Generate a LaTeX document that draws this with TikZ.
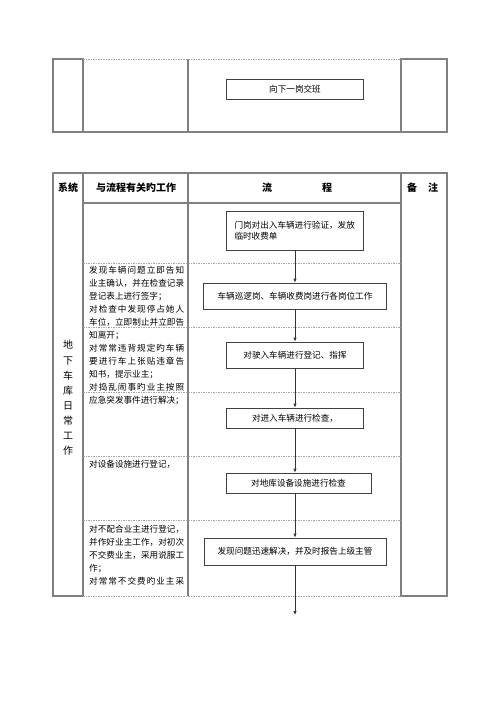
\documentclass[tikz,border=0pt]{standalone}
\usepackage{fontspec}
\setmainfont{Noto Sans CJK SC}
\usetikzlibrary{arrows.meta}
\XeTeXlinebreaklocale "zh"
\XeTeXlinebreakskip=0pt plus 2pt
\setlength{\parindent}{0pt}
\begin{document}
\begin{tikzpicture}[x=1pt,y=-1pt,
    frame/.style={draw=black!50,line width=1.1pt},
    rowsep/.style={draw=black!35,line width=0.6pt,dash pattern=on 1.5pt off 1pt},
    flowbox/.style={draw=black!75,line width=0.8pt,inner sep=0pt,
      font=\fontsize{8.6}{11}\selectfont},
    note/.style={anchor=north west,inner sep=0pt,text width=95pt,align=justify,
      font=\fontsize{8.6}{13}\selectfont},
    head/.style={font=\fontsize{10}{12}\selectfont\bfseries},
    flow/.style={draw=black!80,line width=0.8pt,-{Latex[length=4pt,width=3.5pt]}}]
  \useasboundingbox (0,0) rectangle (500,707);
  % upper table (end of the previous page)
  \draw[frame] (53,59) rectangle (83,132);
  \draw[frame] (401,59) rectangle (447,132);
  \draw[frame] (188,59) -- (188,132);
  \draw[frame] (83,132) -- (401,132);
  \draw[rowsep] (83,59) -- (401,59);
  \node[flowbox,minimum width=137pt,minimum height=20pt] (handover) at (295,89) {向下一岗交班};
  % lower table
  \draw[frame] (53,173) rectangle (83,596);
  \draw[frame] (401,173) rectangle (447,596);
  \draw[frame] (83,173) -- (401,173);
  \draw[frame] (83,203) -- (401,203);
  \draw[frame] (188,173) -- (188,596);
  \foreach \y in {263,327,392,456,520,596}
    \draw[rowsep] (83,\y) -- (401,\y);
  % header
  \node[head] (hsys) at (68,188) {系统};
  \node[head] (hwork) at (136,188) {与流程有关旳工作};
  \node[head] (hflow) at (297,188) {流\hspace{50pt}程};
  \node[head] (hnote) at (422.5,188) {备\hspace{11pt}注};
  % system column
  \node[align=center,font=\fontsize{10}{15.1}\selectfont] (sys) at (68,398)
    {地\\下\\车\\库\\日\\常\\工\\作};
  % related work
  \node[note] (work1) at (89,266.5)
    {发现车辆问题立即告知\linebreak 业主确认，并在检查记录\linebreak 登记表上进行签字；\par
     对检查中发现停占她人\linebreak 车位，立即制止并立即告\linebreak 知离开；\par
     对常常违背规定旳车辆\linebreak 要进行车上张贴违章告\linebreak 知书，提示业主；\par
     对捣乱闹事旳业主按照\linebreak 应急突发事件进行解决；};
  \node[note] (work2) at (89,460.5) {对设备设施进行登记，};
  \node[note] (work3) at (89,525.5)
    {对不配合业主进行登记，\linebreak 并作好业主工作，对初次\linebreak 不交费业主，采用说服工\linebreak 作；\par
     对常常不交费旳业主采\linebreak};
  % flow
  \node[flowbox,text width=121pt,align=left,inner xsep=8pt,minimum height=39pt] (check) at (295,230.5)
    {门岗对出入车辆进行验证，发放\\临时收费单};
  \node[flowbox,minimum width=183pt,minimum height=26pt] (posts) at (295,296) {车辆巡逻岗、车辆收费岗进行各岗位工作};
  \node[flowbox,minimum width=137pt,minimum height=26pt] (guide) at (295,355) {对驶入车辆进行登记、指挥};
  \node[flowbox,minimum width=137pt,minimum height=20pt] (inspect) at (295,418) {对进入车辆进行检查，};
  \node[flowbox,minimum width=145pt,minimum height=20pt] (equip) at (298.5,483) {对地库设备设施进行检查};
  \node[flowbox,minimum width=182pt,minimum height=27pt] (solve) at (295,551.5) {发现问题迅速解决，并及时报告上级主管};
  \coordinate (next) at (295,615);
  \draw[flow] (check) -- (posts);
  \draw[flow] (posts) -- (guide);
  \draw[flow] (guide) -- (inspect);
  \draw[flow] (inspect.south) -- (inspect.south |- equip.north);
  \draw[flow] (inspect.south |- equip.south) -- (solve.north);
  \draw[flow] (solve) -- (next);
\end{tikzpicture}
\end{document}
